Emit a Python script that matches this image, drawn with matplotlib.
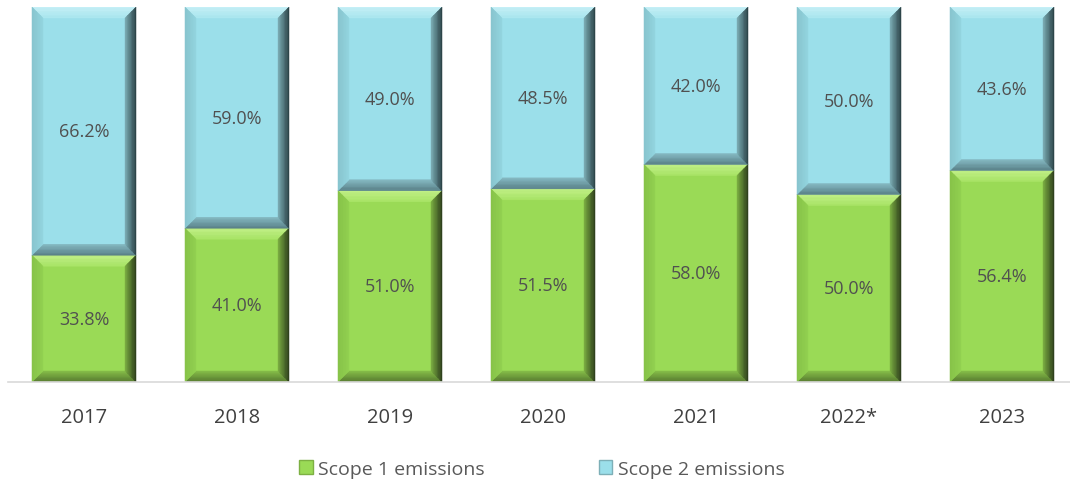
import matplotlib.pyplot as plt
from matplotlib.colors import to_rgb
from matplotlib.patches import Polygon, Patch
import numpy as np

years = ["2017", "2018", "2019", "2020", "2021", "2022*", "2023"]
scope1 = [33.8, 41.0, 51.0, 51.5, 58.0, 50.0, 56.4]
scope2 = [66.2, 59.0, 49.0, 48.5, 42.0, 50.0, 43.6]

# bevel shading: (inner colour, outer colour) per side
GREEN = {"face": "#9ADA56",
         "top": ("#A8E466", "#C2F088"),
         "left": ("#92D150", "#86C249"),
         "bottom": ("#86BE49", "#55772F"),
         "right": ("#7DB043", "#2A3A1A")}
BLUE = {"face": "#9BDFEA",
        "top": ("#A9E6EF", "#C6F0F6"),
        "left": ("#93D5DF", "#87C4CE"),
        "bottom": ("#86BAC3", "#587E85"),
        "right": ("#7DAFB7", "#283E42")}

plt.rcParams["font.family"] = ["Open Sans", "DejaVu Sans"]

fig = plt.figure(figsize=(10.70, 4.89), dpi=100)
ax = fig.add_axes([7.5 / 1070, 106 / 489, 1062.5 / 1070, 375 / 489])

x = np.arange(len(years))
width = 0.68
bars1 = ax.bar(x, scope1, width, color=GREEN["face"], linewidth=0)
bars2 = ax.bar(x, scope2, width, bottom=scope1, color=BLUE["face"], linewidth=0)

ax.set_xlim(-0.5, -0.5 + 1062.5 / 153)
ax.set_ylim(0, 100)

# bevel size in pixels converted to data units
px_x = (ax.get_xlim()[1] - ax.get_xlim()[0]) / 1062.5
px_y = 100 / 375
bev = 11
steps = 8


def shade(inner_pts, outer_pts, cols):
    # inner_pts / outer_pts: edge segment at the inside and the outside of the bevel
    c0, c1 = np.array(to_rgb(cols[0])), np.array(to_rgb(cols[1]))
    (a0, b0), (a1, b1) = np.array(inner_pts), np.array(outer_pts)
    for i in range(steps):
        t0, t1 = i / steps, (i + 1) / steps
        p = [a0 + (a1 - a0) * t0, b0 + (b1 - b0) * t0,
             b0 + (b1 - b0) * t1, a0 + (a1 - a0) * t1]
        col = c0 + (c1 - c0) * (t0 + t1) / 2
        ax.add_patch(Polygon(p, closed=True, facecolor=col, edgecolor=col, lw=0.3))


def bevel(patch, c):
    x0, y0 = patch.get_x(), patch.get_y()
    w, h = patch.get_width(), patch.get_height()
    x1, y1 = x0 + w, y0 + h
    bx, by = bev * px_x, min(bev * px_y, h / 2)
    ix0, ix1, iy0, iy1 = x0 + bx, x1 - bx, y0 + by, y1 - by
    shade([(ix0, iy1), (ix1, iy1)], [(x0, y1), (x1, y1)], c["top"])
    shade([(ix0, iy0), (ix1, iy0)], [(x0, y0), (x1, y0)], c["bottom"])
    shade([(ix0, iy0), (ix0, iy1)], [(x0, y0), (x0, y1)], c["left"])
    shade([(ix1, iy0), (ix1, iy1)], [(x1, y0), (x1, y1)], c["right"])


for p in bars1:
    bevel(p, GREEN)
for p in bars2:
    bevel(p, BLUE)

for i in range(len(years)):
    ax.text(x[i], scope1[i] / 2, f"{scope1[i]:.1f}%", ha="center", va="center",
            fontsize=13, color="#505050")
    ax.text(x[i], scope1[i] + scope2[i] / 2, f"{scope2[i]:.1f}%", ha="center",
            va="center", fontsize=13, color="#505050")

ax.set_xticks(x)
ax.set_xticklabels(years, fontsize=14.5, color="#404040")
ax.tick_params(axis="x", length=0, pad=18)
ax.set_yticks([])
for s in ["top", "right", "left"]:
    ax.spines[s].set_visible(False)
ax.spines["bottom"].set_color("#D9D9D9")
ax.spines["bottom"].set_linewidth(1.2)

handles = [Patch(facecolor=GREEN["face"], edgecolor=GREEN["right"][0], label="Scope 1 emissions"),
           Patch(facecolor=BLUE["face"], edgecolor=BLUE["right"][0], label="Scope 2 emissions")]
fig.legend(handles=handles, loc="center", bbox_to_anchor=(542 / 1070, 1 - 470 / 489),
           ncol=2, frameon=False, fontsize=14, handlelength=0.7, handleheight=0.7,
           handletextpad=0.3, columnspacing=5.85, labelcolor="#595959")

fig.savefig("out.png", dpi=100)
